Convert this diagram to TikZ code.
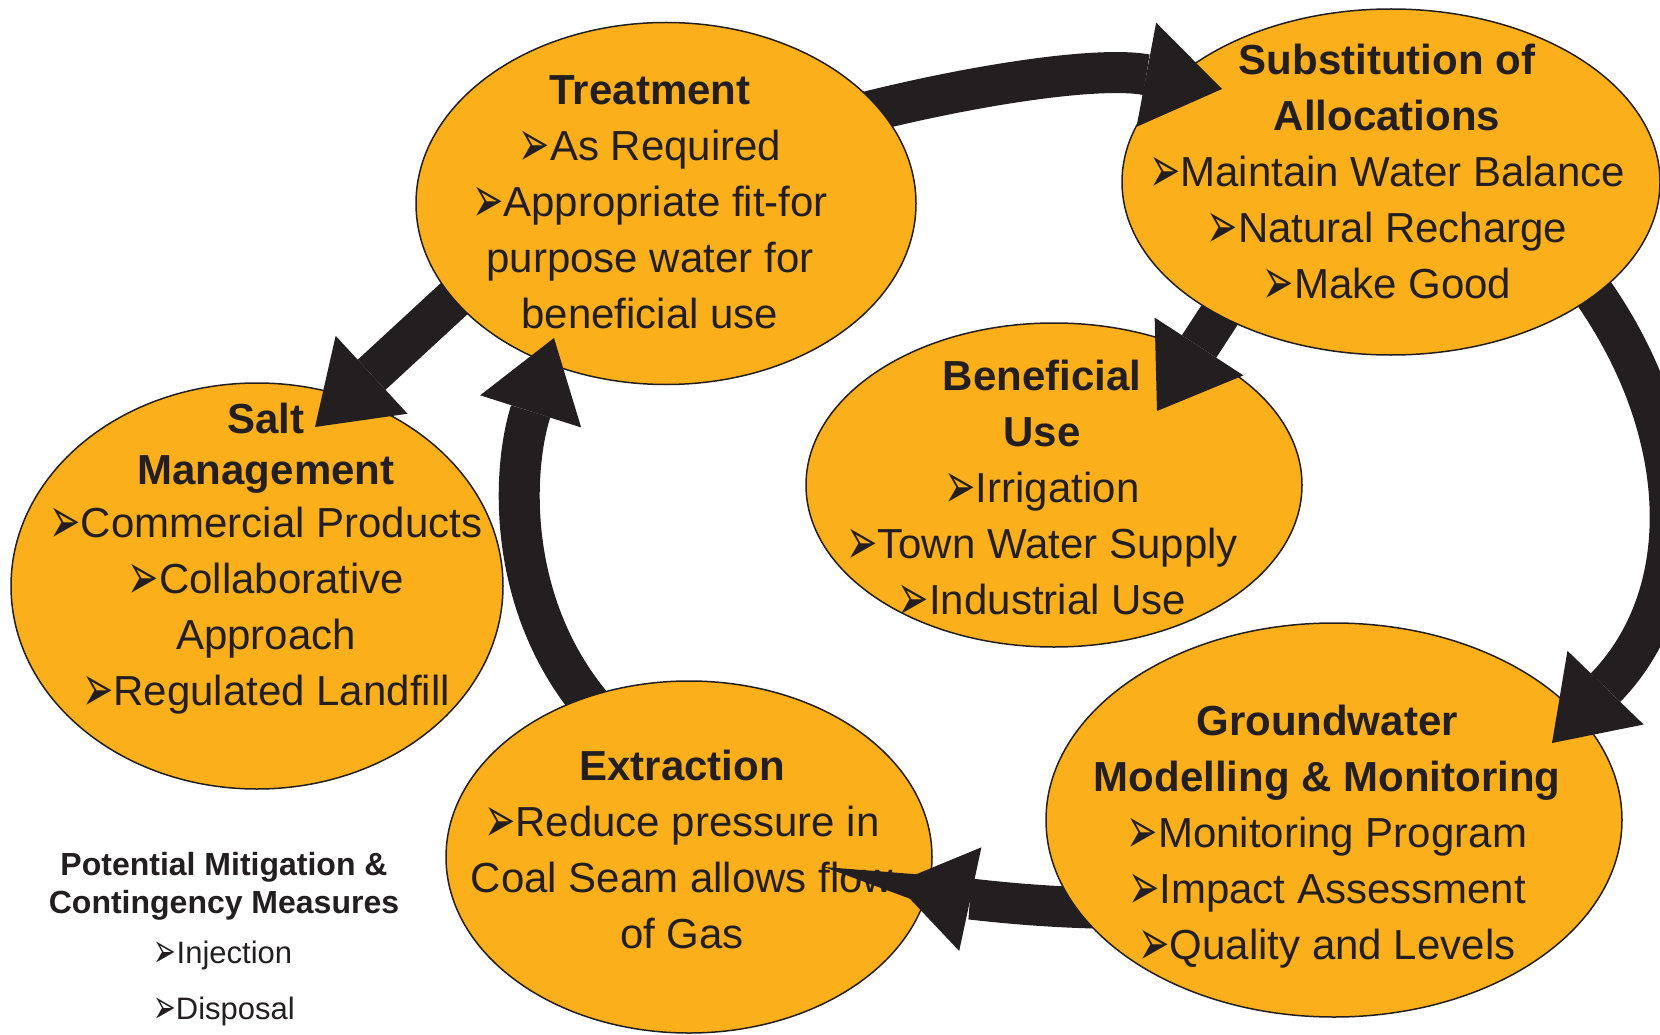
\documentclass[tikz,border=0pt]{standalone}
\usepackage{fontspec}
\usepackage{graphicx}
\setmainfont{Liberation Sans}
\newfontfamily\bulletfont{DejaVu Sans}
\usetikzlibrary{arrows.meta,shapes.geometric}
\definecolor{orangefill}{HTML}{FAAF1B}
\definecolor{ink}{HTML}{231F20}
\newcommand{\arrb}{\smash{\raisebox{-6pt}{\scalebox{0.85}[1.5]{\bulletfont\fontsize{44}{44}\selectfont ➢}}}}
\newcommand{\arrbs}{\smash{\raisebox{-4.5pt}{\scalebox{0.85}[1.5]{\bulletfont\fontsize{32}{32}\selectfont ➢}}}}
\begin{document}
\begin{tikzpicture}[x=1pt,y=-1pt,
  blob/.style={ellipse, draw=ink, line width=1.5pt, fill=orangefill, inner sep=0pt},
  body/.style={text=ink, align=center, inner sep=0pt, font=\fontsize{42}{56}\selectfont},
  legtitle/.style={text=ink, align=center, inner sep=0pt, font=\bfseries\fontsize{32}{38}\selectfont},
  legitem/.style={text=ink, inner sep=0pt, font=\fontsize{31}{38}\selectfont},
  flow/.style={draw=ink, line width=41pt, -{Triangle[length=77pt,width=106pt,line width=0pt]}}]
\useasboundingbox (0,0) rectangle (1660,1035);
\fill[white] (0,0) rectangle (1660,1035);

% ellipses
\node[blob, minimum width=500pt, minimum height=362pt] (treat) at (666,203.5) {};
\node[blob, minimum width=538pt, minimum height=346pt] (subst) at (1391,182) {};
\node[blob, minimum width=496pt, minimum height=324pt] (benef) at (1054,485) {};
\node[blob, minimum width=492pt, minimum height=406pt] (salt) at (257,586) {};
\node[blob, minimum width=486pt, minimum height=352pt] (extr) at (689,857) {};
\node[blob, minimum width=576pt, minimum height=394pt] (ground) at (1334,820) {};

% texts
\node[body] (treatT) at (650,202) {\textbf{Treatment}\\\arrb As Required\\\arrb Appropriate fit-for\\purpose water for\\beneficial use};
\node[body] (substT) at (1387,171) {\textbf{Substitution of}\\\textbf{Allocations}\\\arrb Maintain Water Balance\\\arrb Natural Recharge\\\arrb Make Good};
\node[body] (benefT) at (1042,487) {\textbf{Beneficial}\\\textbf{Use}\\\arrb Irrigation\\\arrb Town Water Supply\\\arrb Industrial Use};
\node[body] (saltT) at (266,559) {\textbf{Salt}\\[-5pt]\textbf{Management}\\[-3pt]\arrb Commercial Products\\\arrb Collaborative\\Approach\\\arrb Regulated Landfill};
\node[body] (extrT) at (682,849) {\textbf{Extraction}\\\arrb Reduce pressure in\\Coal Seam allows flow\\of Gas};
\node[body] (groundT) at (1327,837) {\textbf{Groundwater}\\\textbf{Modelling \& Monitoring}\\\arrb Monitoring Program\\\arrb Impact Assessment\\\arrb Quality and Levels};

% legend
\node[legtitle] (legT) at (224,886) {Potential Mitigation \&\\Contingency Measures};
\node[legitem] (leg1) at (223,955) {\arrbs Injection};
\node[legitem] (leg2) at (224,1011) {\arrbs Disposal};

% connectors (each clipped outside its source ellipse)
\begin{scope}[even odd rule]
  \clip (0,0) rectangle (1660,1035) (treat.center) ellipse [x radius=250, y radius=181];
  \coordinate (a1s) at (851,116);
  \coordinate (a1e) at (1222,89);
  \draw[flow] (a1s) .. controls (975,84) and (1100,66) .. (a1e);
  \coordinate (a6s) at (470,284);
  \coordinate (a6e) at (315,427);
  \draw[flow] (a6s) -- (a6e);
\end{scope}
\begin{scope}[even odd rule]
  \clip (0,0) rectangle (1660,1035) (subst.center) ellipse [x radius=269, y radius=173];
  \coordinate (a2s) at (1582,277);
  \coordinate (a2e) at (1552,743);
  \draw[flow] (a2s) .. controls (1690,420) and (1700,590) .. (a2e);
  \coordinate (a3s) at (1230,299);
  \coordinate (a3e) at (1157,411);
  \draw[flow] (a3s) -- (a3e);
\end{scope}
\begin{scope}[even odd rule]
  \clip (0,0) rectangle (1660,1035) (ground.center) ellipse [x radius=288, y radius=197];
  \coordinate (a4s) at (1094,908);
  \coordinate (a4e) at (895,883);
  \draw[flow] (a4s) .. controls (1020,906) and (965,898) .. (a4e);
\end{scope}
\begin{scope}[even odd rule]
  \clip (0,0) rectangle (1660,1035) (extr.center) ellipse [x radius=243, y radius=176];
  \coordinate (a5s) at (600,715);
  \coordinate (a5e) at (554,338);
  \draw[flow] (a5s) .. controls (505,610) and (512,470) .. (a5e);
\end{scope}
\end{tikzpicture}
\end{document}
